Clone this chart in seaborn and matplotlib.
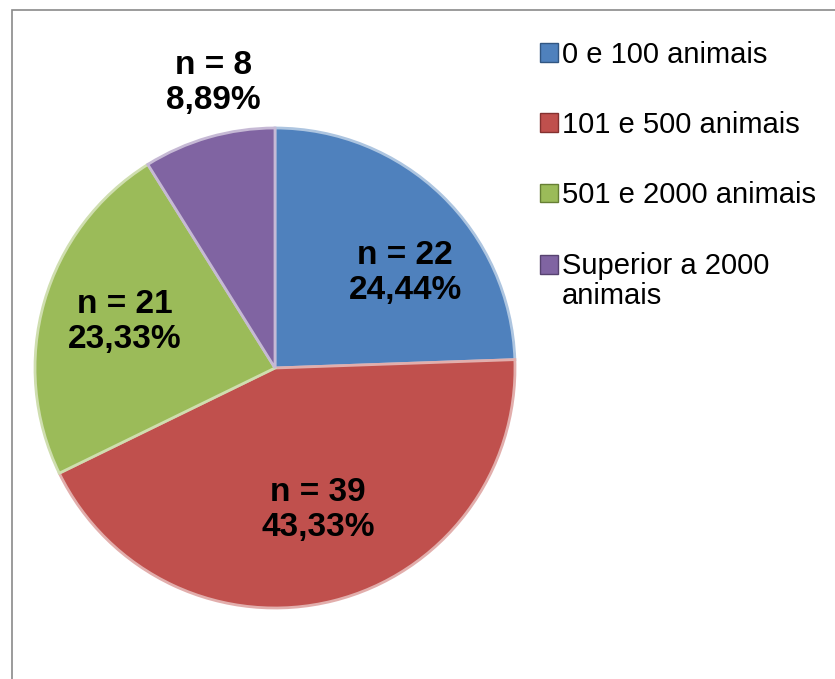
import matplotlib
matplotlib.use("Agg")
import matplotlib.pyplot as plt
from matplotlib.patches import Rectangle, Patch
import seaborn as sns

categories = ["0 e 100 animais", "101 e 500 animais", "501 e 2000 animais", "Superior a 2000\nanimais"]
counts = [22, 39, 21, 8]
percents = ["24,44%", "43,33%", "23,33%", "8,89%"]
colors = ["#4F81BD", "#C0504D", "#9BBB59", "#8064A2"]

sns.set_theme(style="white")
plt.rcParams['font.family'] = ['Liberation Sans', 'DejaVu Sans']
plt.rcParams['text.color'] = 'black'

W, H = 835, 679
fig = plt.figure(figsize=(W / 100, H / 100), dpi=100)
fig.patch.set_facecolor("white")

# frame
fig.add_artist(Rectangle((12 / W, -0.05), 1.2, 1 - 10 / H + 0.05, transform=fig.transFigure,
                         fill=False, edgecolor="#8a8a8a", linewidth=1.2))

cx, cy, r = 275, 368, 240
ax = fig.add_axes([(cx - r) / W, 1 - (cy + r) / H, 2 * r / W, 2 * r / H])
wedges, _ = ax.pie(counts, colors=colors, startangle=90, counterclock=False,
                   wedgeprops=dict(edgecolor="white", linewidth=2))
for w, c in zip(wedges, colors):
    w.set_edgecolor(sns.set_hls_values(c, l=0.78))
ax.set_aspect("equal")
ax.set_xlim(-1, 1)
ax.set_ylim(-1, 1)
ax.axis("off")

label_pos = [(405, 273), (318, 510), (125, 322), (213, 83)]
for (px, py), n, p in zip(label_pos, counts, percents):
    fig.text(px / W, 1 - py / H, f"n = {n}\n{p}", ha="center", va="center",
             fontsize=24, fontweight="bold", color="black", linespacing=1.15)

fs = 21
handles = [Patch(facecolor=c, edgecolor=sns.set_hls_values(c, l=0.35)) for c in colors]
leg = fig.legend(handles, categories, loc="upper left", bbox_to_anchor=(528 / W, 1 - 29 / H),
                 frameon=False, fontsize=fs, handlelength=0.62, handleheight=0.62,
                 handletextpad=0.15, labelspacing=1.45, borderaxespad=0)
for t in leg.get_texts():
    t.set_color("black")
    t.set_linespacing(1.12)
h = leg.legend_handles[3]
h.set_y(h.get_y() + 0.58 * fs)

fig.savefig("out.png", dpi=100, facecolor="white")
